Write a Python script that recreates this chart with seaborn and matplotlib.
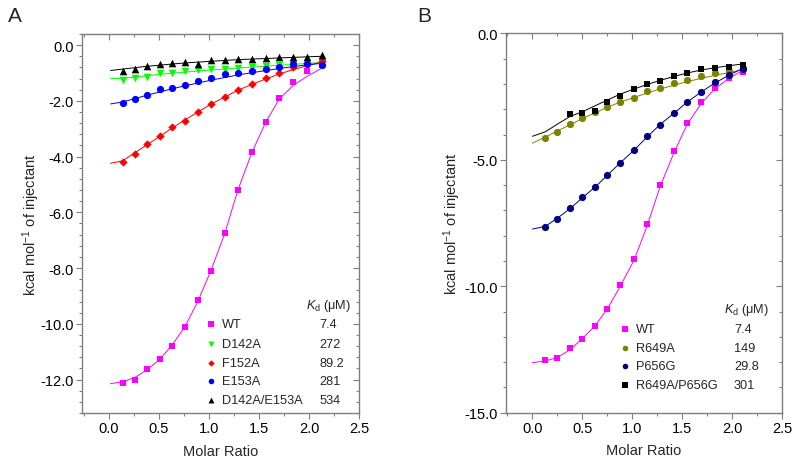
import numpy as np
import pandas as pd
import matplotlib
matplotlib.use("Agg")
import matplotlib.pyplot as plt
from matplotlib.ticker import MultipleLocator, FormatStrFormatter
import seaborn as sns

sns.set_style("ticks")
plt.rcParams['font.family'] = ['Liberation Sans', 'DejaVu Sans']
plt.rcParams['axes.unicode_minus'] = False
plt.rcParams['mathtext.fontset'] = 'custom'
plt.rcParams['mathtext.rm'] = 'Liberation Sans'
plt.rcParams['mathtext.it'] = 'Liberation Sans:italic'

# ---------------- Panel A data ----------------
xA = [0.14, 0.26, 0.38, 0.51, 0.63, 0.76, 0.89, 1.02, 1.16, 1.29, 1.43, 1.57, 1.70, 1.84, 1.98, 2.13]
a_wt = [-12.11, -12.02, -11.62, -11.27, -10.79, -10.12, -9.16, -8.12, -6.74, -5.20, -3.85, -2.75, -1.91, -1.34, -0.94, -0.72]
a_d142a = [-1.24, -1.19, -1.13, -1.01, -0.99, -0.94, -0.91, -0.87, -0.85, -0.81, -0.79, -0.75, -0.70, -0.67, -0.63, -0.61]
a_f152a = [-4.19, -3.89, -3.56, -3.27, -2.95, -2.72, -2.41, -2.11, -1.85, -1.61, -1.40, -1.19, -1.01, -0.80, -0.63, -0.57]
a_e153a = [-2.07, -1.94, -1.79, -1.59, -1.53, -1.42, -1.30, -1.18, -1.05, -1.01, -0.92, -0.84, -0.79, -0.67, -0.66, -0.70]
a_dbl = [-0.93, -0.84, -0.75, -0.66, -0.63, -0.61, -0.66, -0.52, -0.52, -0.51, -0.48, -0.47, -0.44, -0.42, -0.41, -0.37]

# fitted curves
xA_fit = [0.02, 0.14, 0.26, 0.38, 0.51, 0.63, 0.76, 0.89, 1.02, 1.16, 1.29, 1.43, 1.57, 1.70, 1.84, 1.98, 2.13]
a_wt_fit = [-12.15, -12.08, -11.93, -11.66, -11.28, -10.78, -10.12, -9.20, -8.10, -6.75, -5.20, -3.85, -2.75, -1.95, -1.45, -1.12, -0.82]
a_d142a_fit = [-1.20, -1.19, -1.15, -1.10, -1.05, -1.01, -0.97, -0.93, -0.89, -0.86, -0.82, -0.79, -0.76, -0.72, -0.69, -0.66, -0.62]
a_f152a_fit = [-4.24, -4.15, -3.87, -3.58, -3.28, -2.98, -2.69, -2.40, -2.12, -1.86, -1.62, -1.41, -1.21, -1.04, -0.88, -0.74, -0.60]
a_e153a_fit = [-2.11, -2.04, -1.92, -1.80, -1.68, -1.57, -1.46, -1.36, -1.26, -1.16, -1.07, -0.99, -0.91, -0.84, -0.77, -0.71, -0.65]
a_dbl_fit = [-0.91, -0.86, -0.81, -0.76, -0.72, -0.68, -0.64, -0.61, -0.58, -0.55, -0.52, -0.50, -0.48, -0.46, -0.44, -0.42, -0.40]

a_names = ["WT", "D142A", "F152A", "E153A", "D142A/E153A"]
a_kd = ["7.4", "272", "89.2", "281", "534"]

# ---------------- Panel B data ----------------
xB = [0.13, 0.25, 0.38, 0.50, 0.63, 0.75, 0.88, 1.02, 1.15, 1.28, 1.42, 1.55, 1.69, 1.83, 1.97, 2.11]
b_wt = [-12.93, -12.84, -12.44, -12.09, -11.59, -10.91, -9.96, -8.94, -7.54, -6.00, -4.67, -3.56, -2.72, -2.15, -1.77, -1.52]
b_r649a = [-4.13, -3.89, -3.59, -3.36, -3.12, -2.91, -2.72, -2.55, -2.29, -2.17, -1.97, -1.85, -1.68, -1.57, -1.48, -1.36]
b_p656g = [-7.67, -7.34, -6.89, -6.48, -6.09, -5.61, -5.12, -4.60, -4.06, -3.61, -3.16, -2.72, -2.33, -1.94, -1.66, -1.41]
xB_dbl = [0.38, 0.50, 0.63, 0.75, 0.88, 1.02, 1.15, 1.28, 1.42, 1.55, 1.69, 1.83, 1.97, 2.11]
b_dbl = [-3.18, -3.15, -3.07, -2.72, -2.49, -2.21, -2.00, -1.89, -1.70, -1.56, -1.42, -1.37, -1.33, -1.24]

xB_fit = [0.00, 0.13, 0.25, 0.38, 0.50, 0.63, 0.75, 0.88, 1.02, 1.15, 1.28, 1.42, 1.55, 1.69, 1.83, 1.97, 2.11]
b_wt_fit = [-13.02, -12.95, -12.82, -12.50, -12.07, -11.55, -10.90, -10.00, -8.95, -7.60, -6.05, -4.70, -3.60, -2.78, -2.18, -1.78, -1.45]
b_r649a_fit = [-4.34, -4.10, -3.86, -3.61, -3.37, -3.14, -2.92, -2.72, -2.53, -2.36, -2.20, -2.05, -1.91, -1.78, -1.66, -1.55, -1.44]
b_p656g_fit = [-7.74, -7.63, -7.31, -6.92, -6.50, -6.07, -5.61, -5.12, -4.61, -4.09, -3.60, -3.15, -2.72, -2.32, -1.96, -1.65, -1.38]
b_dbl_fit = [-4.07, -3.89, -3.59, -3.28, -3.10, -2.86, -2.64, -2.40, -2.20, -2.02, -1.86, -1.70, -1.57, -1.45, -1.36, -1.28, -1.21]

b_names = ["WT", "R649A", "P656G", "R649A/P656G"]
b_kd = ["7.4", "149", "29.8", "301"]

# ---------------- styles ----------------
a_styles = [("#FF00FF", "s", 22), ("#00FF00", "v", 30), ("#FF0000", "D", 18), ("#0000FF", "o", 27), ("#000000", "^", 30)]
b_styles = [("#FF00FF", "s", 22), ("#808000", "o", 27), ("#000080", "o", 27), ("#000000", "s", 22)]

fig = plt.figure(figsize=(8.0, 4.64), dpi=100)
axA = fig.add_axes([0.1025, 0.1078, 0.3465, 0.8168])
axB = fig.add_axes([0.6325, 0.1084, 0.345, 0.8176])

spine_col = "#7f7f7f"


def style_axes(ax, ylim, ymajor, yminor, ylab_x):
    ax.set_xlim(-0.265, 2.5)
    ax.set_ylim(*ylim)
    ax.xaxis.set_major_locator(MultipleLocator(0.5))
    ax.xaxis.set_minor_locator(MultipleLocator(0.25))
    ax.yaxis.set_major_locator(MultipleLocator(ymajor))
    ax.yaxis.set_minor_locator(MultipleLocator(yminor))
    ax.xaxis.set_major_formatter(FormatStrFormatter("%.1f"))
    ax.yaxis.set_major_formatter(FormatStrFormatter("%.1f"))
    for s in ax.spines.values():
        s.set_visible(True)
        s.set_color(spine_col)
        s.set_linewidth(1.0)
    ax.tick_params(which="both", direction="out", color=spine_col, width=0.8,
                   labelsize=10.5, labelcolor="black", pad=2)
    ax.tick_params(which="major", length=4)
    ax.tick_params(which="minor", length=2.5)
    ax.tick_params(which="both", top=True, right=True)
    # top/right ticks drawn inward
    for t in ax.xaxis.get_major_ticks() + ax.xaxis.get_minor_ticks():
        t.tick2line.set_marker(3)
    for t in ax.yaxis.get_major_ticks() + ax.yaxis.get_minor_ticks():
        t.tick2line.set_marker(0)
    ax.set_xlabel("Molar Ratio", fontsize=10.5, labelpad=6)
    ax.set_ylabel(r"kcal mol$^{-1}$ of injectant", fontsize=10.5)
    ax.yaxis.set_label_coords(ylab_x, 0.5)


def draw_series(ax, x, y, xf, yf, color, marker, size):
    sns.lineplot(x=xf, y=yf, ax=ax, color=color, linewidth=0.7, sort=False, zorder=2)
    sns.scatterplot(x=x, y=y, ax=ax, color=color, marker=marker, s=size,
                    linewidth=0, zorder=3)


# Panel A
a_data = [a_wt, a_d142a, a_f152a, a_e153a, a_dbl]
a_fits = [a_wt_fit, a_d142a_fit, a_f152a_fit, a_e153a_fit, a_dbl_fit]
for y, yf, (c, m, s) in zip(a_data, a_fits, a_styles):
    draw_series(axA, xA, y, xA_fit, yf, c, m, s)

# Panel B
b_xs = [xB, xB, xB, xB_dbl]
b_data = [b_wt, b_r649a, b_p656g, b_dbl]
b_fits = [b_wt_fit, b_r649a_fit, b_p656g_fit, b_dbl_fit]
for x, y, yf, (c, m, s) in zip(b_xs, b_data, b_fits, b_styles):
    draw_series(axB, x, y, xB_fit, yf, c, m, s)

style_axes(axA, (-13.2, 0.4), 2.0, 0.4, -0.143)
style_axes(axB, (-15.0, 0.0), 5.0, 1.0, -0.155)

# Legends (manual, axes coords)
def kd_legend(ax, names, kds, styles, x_mark, x_lab, x_val, y_head, x_head, y_rows):
    ax.text(x_head, y_head, r"$K_\mathrm{d}$ (μM)", transform=ax.transAxes,
            fontsize=9.2, ha="left", va="center")
    for name, kd, (c, m, s), yr in zip(names, kds, styles, y_rows):
        ax.scatter([x_mark], [yr], transform=ax.transAxes, color=c, marker=m,
                   s=s * 0.6, linewidth=0, clip_on=False, zorder=4)
        ax.text(x_lab, yr, name, transform=ax.transAxes, fontsize=9.2,
                ha="left", va="center")
        ax.text(x_val, yr, kd, transform=ax.transAxes, fontsize=9.2,
                ha="left", va="center")

kd_legend(axA, a_names, a_kd, a_styles, 0.466, 0.505, 0.856, 0.285, 0.808,
          [0.234, 0.182, 0.133, 0.084, 0.035])
kd_legend(axB, b_names, b_kd, b_styles, 0.432, 0.470, 0.826, 0.274, 0.790,
          [0.220, 0.171, 0.122, 0.074])

fig.text(0.010, 0.965, "A", fontsize=15, ha="left", va="center")
fig.text(0.521, 0.965, "B", fontsize=15, ha="left", va="center")

fig.savefig("out.png", dpi=100)
